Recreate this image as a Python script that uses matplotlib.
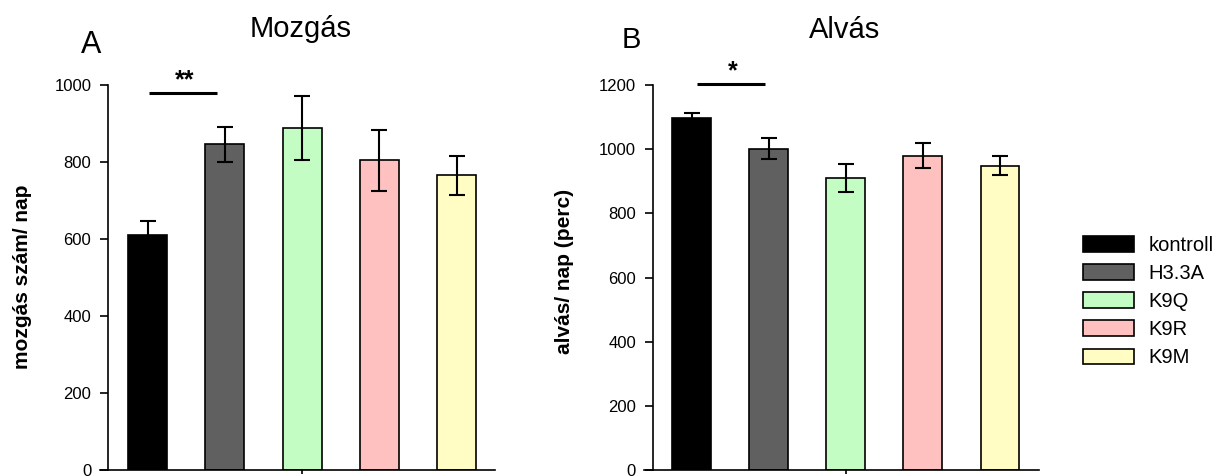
import matplotlib
matplotlib.use("Agg")
import matplotlib.pyplot as plt
import numpy as np

plt.rcParams['font.family'] = ['Liberation Sans', 'DejaVu Sans']

groups = ["kontroll", "H3.3A", "K9Q", "K9R", "K9M"]
colors = ["#000000", "#606060", "#C3FDC3", "#FFC0C0", "#FFFDC3"]

mozgas_mean = [610, 846, 888, 804, 765]
mozgas_err = [37, 46, 84, 79, 50]

alvas_mean = [1096, 1002, 910, 980, 948]
alvas_err = [18, 32, 44, 39, 30]

W, H = 1227, 476
fig = plt.figure(figsize=(W / 100, H / 100), dpi=100)

def px_axes(x0, x1, y_top, y_bot):
    return fig.add_axes([x0 / W, (H - y_bot) / H, (x1 - x0) / W, (y_bot - y_top) / H])

axA = px_axes(100, 495, 85, 470)
axB = px_axes(644, 1039, 85, 470)

x = np.arange(len(groups))

def draw(ax, means, errs, ymax, xlim, yaxis_x, sig, stars):
    bars = ax.bar(x, means, width=0.505, color=colors, edgecolor="black", linewidth=1.2, zorder=2)
    ax.errorbar(x, means, yerr=errs, fmt="none", ecolor="black", elinewidth=1.5,
                capsize=6, capthick=1.5, zorder=3)
    ax.set_xlim(*xlim)
    ax.set_ylim(0, ymax)
    ax.spines['top'].set_visible(False)
    ax.spines['right'].set_visible(False)
    ax.spines['left'].set_position(('data', yaxis_x))
    for s in ('left', 'bottom'):
        ax.spines[s].set_linewidth(1.2)
    ax.set_yticks(np.arange(0, ymax + 1, 200))
    ax.tick_params(axis='y', length=6, width=1.2, pad=6, labelsize=12)
    ax.set_xticks([2])
    ax.set_xticklabels([""])
    ax.tick_params(axis='x', length=3, width=1.2)
    ax.set_facecolor('none')
    # significance
    (x0, x1, yv) = sig
    ax.plot([x0, x1], [yv, yv], color="black", lw=2.2, clip_on=False, solid_capstyle='butt')
    ax.annotate(stars, xy=((x0 + x1) / 2 + 0.02, yv), xytext=(0, 4), textcoords='offset points',
                ha='center', va='baseline', fontsize=18, fontweight='bold',
                annotation_clip=False)
    return bars

barsA = draw(axA, mozgas_mean, mozgas_err, 1000, (-0.615, 4.498), -0.511,
             (0.02, 0.9, 979), "**")
barsB = draw(axB, alvas_mean, alvas_err, 1200, (-0.616, 4.506), -0.503,
             (0.07, 0.95, 1203), "*")

# y labels
fig.text(23 / W, 1 - 277 / H, "mozgás szám/ nap", rotation=90, ha='center', va='center',
         fontsize=15, fontweight='bold')
fig.text(564 / W, 1 - 271 / H, "alvás/ nap (perc)", rotation=90, ha='center', va='center',
         fontsize=15, fontweight='bold')

# titles
fig.text(301 / W, 1 - 37 / H, "Mozgás", ha='center', va='baseline', fontsize=21)
fig.text(845 / W, 1 - 38 / H, "Alvás", ha='center', va='baseline', fontsize=21)
fig.text(81 / W, 1 - 53 / H, "A", ha='left', va='baseline', fontsize=22)
fig.text(622 / W, 1 - 48 / H, "B", ha='left', va='baseline', fontsize=21)

fig.legend(barsA.patches, groups, loc='upper left', bbox_to_anchor=(1083 / W, 1 - 236 / H),
           frameon=False, fontsize=14.5, handlelength=2.55, handleheight=0.8,
           labelspacing=0.45, handletextpad=0.7, borderaxespad=0, borderpad=0)

fig.savefig("out.png", dpi=100)
